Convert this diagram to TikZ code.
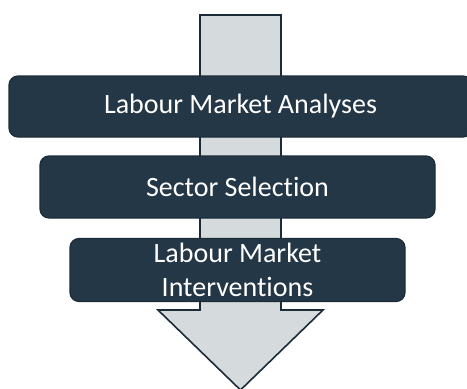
\documentclass[tikz,border=0pt]{standalone}
\usepackage{fontspec}
\setmainfont{Carlito}[Ligatures=NoCommon]
\usepackage{tikz}
\usetikzlibrary{positioning,calc}

\definecolor{boxblue}{HTML}{243747}
\definecolor{boxline}{HTML}{1C2B38}
\definecolor{arrowgrey}{HTML}{D5DADD}

\tikzset{
    stage/.style={draw=boxline, line width=1.2pt, fill=boxblue, rounded corners=9pt,
        text=white, align=center, font=\fontsize{28}{34}\selectfont, inner sep=0pt},
}

\begin{document}
\begin{tikzpicture}[x=1pt, y=-1pt]
    \useasboundingbox (0,0) rectangle (467,389);
    \clip (0,0) rectangle (467,389);
    % big arrow behind the stages
    \draw[draw=boxline, line width=1.6pt, fill=arrowgrey]
        (200,15) -- (281,15) -- (281,310) -- (323,310) -- (240.5,390)
        -- (158,310) -- (200,310) -- cycle;

    \node[stage, minimum width=463pt, minimum height=61pt] (analyses) at (240.5,106.5) {Labour Market Analyses};
    \node[stage, minimum width=395pt, minimum height=62pt] (selection) at (237.5,187) {Sector Selection};
    \node[stage, minimum width=335pt, minimum height=63pt] (interventions) at (237.5,270) {Labour Market\\Interventions};
\end{tikzpicture}
\end{document}
